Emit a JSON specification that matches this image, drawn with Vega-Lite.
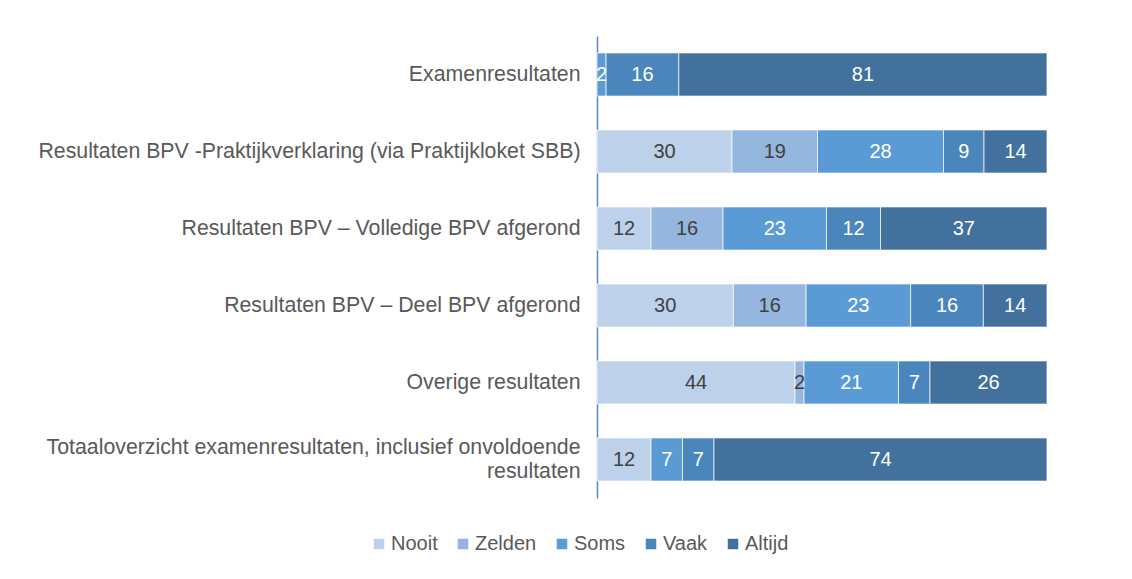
{
  "$schema": "https://vega.github.io/schema/vega-lite/v6.json",
  "width": 450,
  "height": 462,
  "autosize": {"type": "none"},
  "padding": {"left": 597, "top": 36, "right": 85, "bottom": 81},
  "background": "white",
  "config": {
    "view": {"stroke": null},
    "font": "Liberation Sans"
  },
  "data": {
    "values": [
      {"row": "Examenresultaten", "cat": "Soms", "ord": 3, "v": 2},
      {"row": "Examenresultaten", "cat": "Vaak", "ord": 4, "v": 16},
      {"row": "Examenresultaten", "cat": "Altijd", "ord": 5, "v": 81},
      {"row": "Resultaten BPV -Praktijkverklaring (via Praktijkloket SBB)", "cat": "Nooit", "ord": 1, "v": 30},
      {"row": "Resultaten BPV -Praktijkverklaring (via Praktijkloket SBB)", "cat": "Zelden", "ord": 2, "v": 19},
      {"row": "Resultaten BPV -Praktijkverklaring (via Praktijkloket SBB)", "cat": "Soms", "ord": 3, "v": 28},
      {"row": "Resultaten BPV -Praktijkverklaring (via Praktijkloket SBB)", "cat": "Vaak", "ord": 4, "v": 9},
      {"row": "Resultaten BPV -Praktijkverklaring (via Praktijkloket SBB)", "cat": "Altijd", "ord": 5, "v": 14},
      {"row": "Resultaten BPV – Volledige BPV afgerond", "cat": "Nooit", "ord": 1, "v": 12},
      {"row": "Resultaten BPV – Volledige BPV afgerond", "cat": "Zelden", "ord": 2, "v": 16},
      {"row": "Resultaten BPV – Volledige BPV afgerond", "cat": "Soms", "ord": 3, "v": 23},
      {"row": "Resultaten BPV – Volledige BPV afgerond", "cat": "Vaak", "ord": 4, "v": 12},
      {"row": "Resultaten BPV – Volledige BPV afgerond", "cat": "Altijd", "ord": 5, "v": 37},
      {"row": "Resultaten BPV – Deel BPV afgerond", "cat": "Nooit", "ord": 1, "v": 30},
      {"row": "Resultaten BPV – Deel BPV afgerond", "cat": "Zelden", "ord": 2, "v": 16},
      {"row": "Resultaten BPV – Deel BPV afgerond", "cat": "Soms", "ord": 3, "v": 23},
      {"row": "Resultaten BPV – Deel BPV afgerond", "cat": "Vaak", "ord": 4, "v": 16},
      {"row": "Resultaten BPV – Deel BPV afgerond", "cat": "Altijd", "ord": 5, "v": 14},
      {"row": "Overige resultaten", "cat": "Nooit", "ord": 1, "v": 44},
      {"row": "Overige resultaten", "cat": "Zelden", "ord": 2, "v": 2},
      {"row": "Overige resultaten", "cat": "Soms", "ord": 3, "v": 21},
      {"row": "Overige resultaten", "cat": "Vaak", "ord": 4, "v": 7},
      {"row": "Overige resultaten", "cat": "Altijd", "ord": 5, "v": 26},
      {"row": "Totaaloverzicht examenresultaten, inclusief onvoldoende resultaten", "cat": "Nooit", "ord": 1, "v": 12},
      {"row": "Totaaloverzicht examenresultaten, inclusief onvoldoende resultaten", "cat": "Soms", "ord": 3, "v": 7},
      {"row": "Totaaloverzicht examenresultaten, inclusief onvoldoende resultaten", "cat": "Vaak", "ord": 4, "v": 7},
      {"row": "Totaaloverzicht examenresultaten, inclusief onvoldoende resultaten", "cat": "Altijd", "ord": 5, "v": 74}
    ]
  },
  "transform": [
    {"stack": "v", "groupby": ["row"], "sort": [{"field": "ord", "order": "ascending"}], "offset": "normalize", "as": ["v0", "v1"]},
    {"calculate": "(datum.v0 + datum.v1) / 2", "as": "mid"}
  ],
  "encoding": {
    "y": {
      "field": "row",
      "type": "nominal",
      "sort": null,
      "title": null,
      "scale": {"paddingInner": 0.44, "paddingOuter": 0.22},
      "axis": {
        "ticks": false,
        "domainColor": "#5b87c9",
        "domainWidth": 1.5,
        "labelFontSize": 21.3,
        "labelColor": "#595959",
        "labelPadding": 17,
        "labelLimit": 600,
        "labelLineHeight": 24,
        "labelOffset": {"condition": {"test": "datum.value == 'Totaaloverzicht examenresultaten, inclusief onvoldoende resultaten'", "value": -12}, "value": 0},
        "labelExpr": "datum.value == 'Totaaloverzicht examenresultaten, inclusief onvoldoende resultaten' ? ['Totaaloverzicht examenresultaten, inclusief onvoldoende', 'resultaten'] : datum.value"
      }
    }
  },
  "layer": [
    {
      "mark": {"type": "bar", "stroke": "white", "strokeWidth": 0.7},
      "encoding": {
        "x": {"field": "v0", "type": "quantitative", "scale": {"domain": [0, 1], "nice": false}, "axis": null},
        "x2": {"field": "v1"},
        "color": {
          "field": "cat",
          "type": "nominal",
          "title": null,
          "scale": {
            "domain": ["Nooit", "Zelden", "Soms", "Vaak", "Altijd"],
            "range": ["#bdd1ea", "#95b6de", "#5b9bd5", "#4a86bc", "#41719c"]
          },
          "legend": {
            "orient": "none",
            "direction": "horizontal",
            "legendX": -228,
            "legendY": 498,
            "symbolType": "square",
            "symbolSize": 110,
            "symbolStrokeWidth": 0,
            "labelFontSize": 20,
            "labelColor": "#595959",
            "labelOffset": 2,
            "columnPadding": 15
          }
        }
      }
    },
    {
      "mark": {"type": "text", "fontSize": 20, "baseline": "middle", "align": "center"},
      "encoding": {
        "x": {"field": "mid", "type": "quantitative"},
        "text": {"field": "v", "type": "quantitative"},
        "color": {
          "condition": {"test": "datum.cat == 'Nooit' || datum.cat == 'Zelden'", "value": "#404040"},
          "value": "white"
        }
      }
    }
  ]
}
